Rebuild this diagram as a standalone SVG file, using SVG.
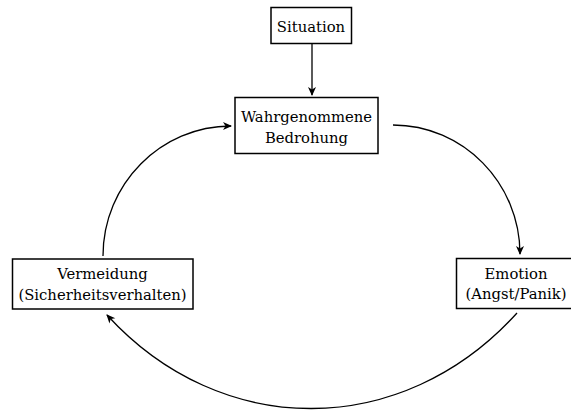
<svg xmlns="http://www.w3.org/2000/svg" width="571" height="410" viewBox="0 0 571 410">
  <style>
    .box { fill: #ffffff; stroke: #000000; stroke-width: 1.5; }
    .lbl { font-family: "DejaVu Serif", "Liberation Serif", serif; font-size: 14.8px; fill: #000000; text-anchor: middle; }
    .edge { fill: none; stroke: #000000; stroke-width: 1.3; marker-end: url(#head); }
  </style>
  <defs>
    <marker id="head" viewBox="-10 -5 12 10" refX="0" refY="0" markerWidth="12" markerHeight="10" markerUnits="userSpaceOnUse" orient="auto">
      <path d="M1,0 L-8,-4 L-5.5,0 L-8,4 Z" fill="#000000"/>
    </marker>
  </defs>
  <rect width="571" height="410" fill="#ffffff"/>

  <g id="connectors">
    <path class="edge" d="M312,44 L312,95"/>
    <path class="edge" d="M393,125 C463,125 520,183 520,254"/>
    <path class="edge" d="M517,313 C402,440 221,440 107,315"/>
    <path class="edge" d="M103,256 C103,184 161,126 231,126"/>
  </g>

  <g id="situation">
    <rect class="box" x="271" y="7.5" width="80.5" height="36"/>
    <text class="lbl" x="311" y="31.5">Situation</text>
  </g>

  <g id="bedrohung">
    <rect class="box" x="235" y="97.5" width="143" height="56"/>
    <text class="lbl" x="306.5" y="122">Wahrgenommene</text>
    <text class="lbl" x="306.5" y="143">Bedrohung</text>
  </g>

  <g id="emotion">
    <rect class="box" x="456.5" y="258.5" width="116" height="50"/>
    <text class="lbl" x="516" y="278.5">Emotion</text>
    <text class="lbl" x="516" y="299">(Angst/Panik)</text>
  </g>

  <g id="vermeidung">
    <rect class="box" x="12.5" y="259" width="180.5" height="50"/>
    <text class="lbl" x="102.5" y="279">Vermeidung</text>
    <text class="lbl" x="102.5" y="300">(Sicherheitsverhalten)</text>
  </g>
</svg>
